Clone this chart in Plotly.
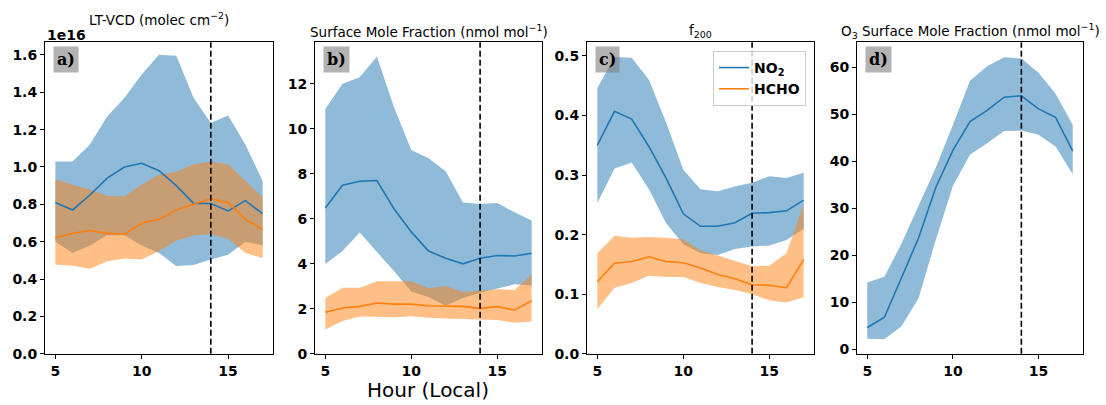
import plotly.graph_objects as go

hours = list(range(5, 18))

# Panel a: LT-VCD (units of 1e16 molec cm^-2)
no2_vcd_mean = [0.81, 0.77, 0.85, 0.94, 1.00, 1.02, 0.98, 0.90, 0.805, 0.805, 0.765, 0.82, 0.75]
no2_vcd_up = [1.03, 1.03, 1.12, 1.27, 1.37, 1.495, 1.60, 1.595, 1.37, 1.235, 1.275, 1.12, 0.925]
no2_vcd_lo = [0.60, 0.54, 0.58, 0.635, 0.635, 0.58, 0.54, 0.47, 0.475, 0.505, 0.53, 0.60, 0.58]
hcho_vcd_mean = [0.62, 0.645, 0.66, 0.645, 0.64, 0.70, 0.72, 0.77, 0.80, 0.83, 0.81, 0.72, 0.665]
hcho_vcd_up = [0.935, 0.905, 0.88, 0.845, 0.843, 0.905, 0.96, 0.975, 1.015, 1.028, 1.014, 0.925, 0.838]
hcho_vcd_lo = [0.478, 0.472, 0.455, 0.495, 0.51, 0.505, 0.55, 0.605, 0.634, 0.642, 0.616, 0.54, 0.513]

# Panel b: surface mole fraction (nmol mol-1)
no2_sfc_mean = [6.48, 7.49, 7.67, 7.70, 6.44, 5.42, 4.57, 4.25, 4.00, 4.25, 4.37, 4.35, 4.47]
no2_sfc_up = [10.88, 12.0, 12.29, 13.21, 10.95, 9.06, 8.69, 8.11, 6.73, 6.66, 6.70, 6.29, 5.93]
no2_sfc_lo = [3.99, 4.57, 5.39, 4.54, 3.67, 2.77, 2.53, 2.14, 2.48, 2.72, 2.90, 3.09, 3.04]
hcho_sfc_mean = [1.85, 2.04, 2.11, 2.26, 2.21, 2.21, 2.14, 2.11, 2.11, 2.02, 2.10, 1.95, 2.36]
hcho_sfc_up = [2.48, 2.94, 2.94, 3.23, 3.23, 3.23, 2.91, 3.01, 2.75, 2.80, 2.87, 2.84, 3.52]
hcho_sfc_lo = [1.08, 1.46, 1.66, 1.66, 1.63, 1.67, 1.60, 1.57, 1.54, 1.51, 1.50, 1.38, 1.44]

# Panel c: f200
no2_f_mean = [0.350, 0.407, 0.394, 0.348, 0.295, 0.235, 0.214, 0.214, 0.220, 0.236, 0.237, 0.240, 0.258]
no2_f_up = [0.446, 0.498, 0.497, 0.460, 0.388, 0.309, 0.276, 0.273, 0.281, 0.287, 0.298, 0.295, 0.304]
no2_f_lo = [0.253, 0.311, 0.321, 0.276, 0.219, 0.184, 0.169, 0.166, 0.176, 0.180, 0.182, 0.191, 0.210]
hcho_f_mean = [0.121, 0.152, 0.155, 0.163, 0.155, 0.153, 0.144, 0.133, 0.126, 0.116, 0.115, 0.111, 0.158]
hcho_f_up = [0.169, 0.198, 0.195, 0.196, 0.195, 0.192, 0.174, 0.165, 0.155, 0.147, 0.148, 0.169, 0.251]
hcho_f_lo = [0.075, 0.111, 0.119, 0.131, 0.129, 0.129, 0.119, 0.112, 0.107, 0.100, 0.090, 0.086, 0.095]

# Panel d: O3 surface mole fraction
o3_mean = [4.6, 6.8, 15.2, 23.7, 34.4, 42.3, 48.4, 50.8, 53.6, 53.9, 51.1, 49.3, 42.1]
o3_up = [14.2, 15.4, 22.5, 30.7, 38.6, 47.7, 57.1, 60.2, 62.1, 61.8, 58.8, 54.3, 47.7]
o3_lo = [2.2, 2.1, 4.9, 10.9, 23.2, 34.7, 41.4, 43.8, 46.4, 46.5, 45.6, 43.1, 37.2]

panel_titles = ["LT-VCD (molec cm<sup>−2</sup>)",
                "Surface Mole Fraction (nmol mol<sup>−1</sup>)",
                "f<sub>200</sub>",
                "O<sub>3</sub> Surface Mole Fraction (nmol mol<sup>−1</sup>)"]
panel_labels = ["a)", "b)", "c)", "d)"]
xlabel = "Hour (Local)"
overpass_hour = 14

BLUE = "#1f77b4"
ORANGE = "#ff7f0e"
BLUE_F = "rgba(31,119,180,0.5)"
ORANGE_F = "rgba(255,127,14,0.5)"

W, H = 1106, 405
px_x = [(45, 273), (315, 542), (587, 814), (857, 1083)]
top_px, bot_px = 43, 361

def fx(p):
    return p / W

def fy(p):
    return (H - p) / H

fig = go.Figure()

panels = [
    [(no2_vcd_mean, no2_vcd_up, no2_vcd_lo, BLUE, BLUE_F, "NO<sub>2</sub>"),
     (hcho_vcd_mean, hcho_vcd_up, hcho_vcd_lo, ORANGE, ORANGE_F, "HCHO")],
    [(no2_sfc_mean, no2_sfc_up, no2_sfc_lo, BLUE, BLUE_F, "NO<sub>2</sub>"),
     (hcho_sfc_mean, hcho_sfc_up, hcho_sfc_lo, ORANGE, ORANGE_F, "HCHO")],
    [(no2_f_mean, no2_f_up, no2_f_lo, BLUE, BLUE_F, "NO<sub>2</sub>"),
     (hcho_f_mean, hcho_f_up, hcho_f_lo, ORANGE, ORANGE_F, "HCHO")],
    [(o3_mean, o3_up, o3_lo, BLUE, BLUE_F, "O<sub>3</sub>")],
]

yranges = [[0, 1.668], [0, 13.85], [0, 0.523], [-1, 65.3]]
ytickvals = [[0, 0.2, 0.4, 0.6, 0.8, 1.0, 1.2, 1.4, 1.6],
             [0, 2, 4, 6, 8, 10, 12],
             [0, 0.1, 0.2, 0.3, 0.4, 0.5],
             [0, 10, 20, 30, 40, 50, 60]]
yfmt = [".1f", "d", ".1f", "d"]

tickfont = dict(family="DejaVu Sans", size=14, color="black", weight="bold")

for i, series in enumerate(panels):
    xa = "x" if i == 0 else f"x{i+1}"
    ya = "y" if i == 0 else f"y{i+1}"
    # fills
    for (m, up, lo, col, fcol, name) in series:
        fig.add_trace(go.Scatter(x=hours, y=lo, xaxis=xa, yaxis=ya, mode="lines",
                                 line=dict(width=0, color=fcol), showlegend=False,
                                 hoverinfo="skip"))
        fig.add_trace(go.Scatter(x=hours, y=up, xaxis=xa, yaxis=ya, mode="lines",
                                 line=dict(width=0, color=fcol), fill="tonexty",
                                 fillcolor=fcol, showlegend=False, hoverinfo="skip"))
    for (m, up, lo, col, fcol, name) in series:
        fig.add_trace(go.Scatter(x=hours, y=m, xaxis=xa, yaxis=ya, mode="lines",
                                 line=dict(width=1.6, color=col), name=name,
                                 showlegend=(i == 2)))
    x0, x1 = px_x[i]
    axis_common = dict(showline=True, mirror=True, linecolor="black", linewidth=1,
                       ticks="outside", ticklen=4, tickwidth=1, tickcolor="black",
                       showgrid=False, zeroline=False, tickfont=tickfont)
    fig.layout[("xaxis" if i == 0 else f"xaxis{i+1}")] = dict(
        domain=[fx(x0), fx(x1)], anchor=ya, range=[4.4, 17.6],
        tickvals=[5, 10, 15], **axis_common)
    fig.layout[("yaxis" if i == 0 else f"yaxis{i+1}")] = dict(
        domain=[fy(bot_px), fy(top_px)], anchor=xa, range=yranges[i],
        tickvals=ytickvals[i], tickformat=yfmt[i], **axis_common)
    # overpass line
    fig.add_shape(type="line", xref=xa, yref=f"{ya} domain", x0=overpass_hour,
                  x1=overpass_hour, y0=0, y1=1,
                  line=dict(color="black", width=1.6, dash="6px,3px"))
    # panel title
    fig.add_annotation(xref="paper", yref="paper", x=fx((x0 + x1) / 2),
                       y=fy(19 if i == 0 else 32), text=panel_titles[i],
                       showarrow=False, xanchor="center", yanchor="middle",
                       font=dict(family="DejaVu Sans", size=13.5, color="black"))
    # panel label box
    fig.add_annotation(xref="paper", yref="paper", x=fx(x0 + 8), y=fy(47),
                       text=f"<b>{panel_labels[i]}</b>", showarrow=False,
                       xanchor="left", yanchor="top", bgcolor="rgba(128,128,128,0.6)",
                       borderpad=3,
                       font=dict(family="DejaVu Serif", size=16, color="black"))

# offset text
fig.add_annotation(xref="paper", yref="paper", x=fx(45), y=fy(36), text="<b>1e16</b>",
                   showarrow=False, xanchor="left", yanchor="middle",
                   font=dict(family="DejaVu Sans", size=14, color="black"))
# x label
fig.add_annotation(xref="paper", yref="paper", x=fx(428), y=fy(398), text=xlabel,
                   showarrow=False, xanchor="center", yanchor="middle",
                   font=dict(family="DejaVu Sans", size=20, color="black"))

fig.update_layout(
    width=W, height=H, margin=dict(l=0, r=0, t=0, b=0),
    plot_bgcolor="white", paper_bgcolor="white",
    legend=dict(x=fx(806), y=fy(52), xanchor="right", yanchor="top",
                traceorder="normal",
                bgcolor="rgba(255,255,255,0.8)", bordercolor="#cccccc", borderwidth=1,
                font=dict(family="DejaVu Sans", size=14, color="black", weight="bold"),
                tracegroupgap=0),
)

fig.write_html("out.html")
